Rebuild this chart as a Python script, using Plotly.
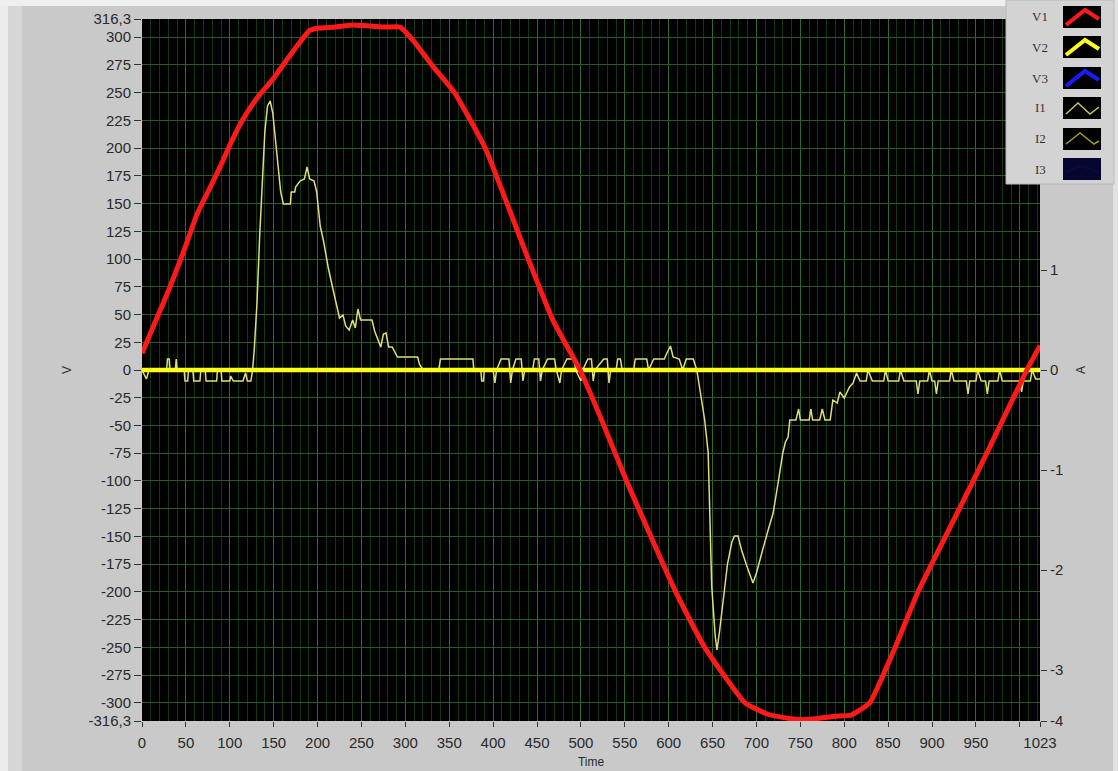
import plotly.graph_objects as go

# ---------------- data ----------------
# V1 voltage (V)
v1_t = [0, 16, 32, 48, 63, 76, 89, 102, 115, 132, 149, 170, 191, 200, 220, 240, 260, 280, 294,
        310, 330, 356, 391, 440, 468, 499, 522, 552, 608, 641, 687, 712, 730, 750, 770, 790, 808,
        829, 858, 884, 947, 966, 1008, 1023]
v1_v = [15, 45, 75, 108, 141, 162, 183, 206, 226, 246, 262, 285, 306, 308, 309, 311, 310, 309, 309,
        296, 275, 250, 200, 100, 45, 0, -42, -100, -200, -250, -300, -310, -313, -315, -314, -312, -311,
        -300, -250, -200, -100, -69, 0, 22]

# V2 / V3 voltages (flat at 0 V)
v2_t = [0, 1023]
v2_v = [0, 0]
v3_t = [0, 1023]
v3_v = [0, 0]

# I1 current (A)
i1_t = [0, 5, 8, 28, 29, 31, 32, 38, 39, 40, 48, 49, 52, 53, 58, 59, 66, 67, 72, 73, 85, 86, 90, 91,
        100, 101, 104, 115, 118, 120, 124, 126,
        128, 131, 134, 137, 140, 143, 146, 149, 152, 155, 158, 161, 169, 170, 174, 175, 180, 185, 188,
        191, 196, 199, 203, 207, 212, 217, 222, 225, 229, 232, 236, 240, 243, 246, 249, 262, 265, 270,
        272, 275, 278, 281, 285, 291, 314, 316, 320,
        338, 340, 377, 378, 386, 387, 389, 390, 400, 402, 404, 409, 418, 420, 422, 426, 432, 434, 436,
        445, 447, 452, 454, 456, 462, 470, 472, 476, 478, 484, 492, 494, 500, 502, 508, 512, 514, 516,
        526, 530, 532, 534, 540, 542, 545, 547, 560, 562, 575, 577, 583, 595, 598, 602, 605, 612, 616,
        620, 628, 632,
        636, 641, 645, 649, 653, 655, 658, 662, 667, 672, 675, 679, 683, 689, 693, 696, 700, 704, 707,
        713, 719, 725, 730, 733, 736, 738, 745, 748, 750, 760, 762, 764, 772, 775, 778, 784, 787, 792,
        795, 800, 806, 810, 814,
        818, 825, 827, 832, 845, 847, 850, 862, 864, 868, 882, 884, 886, 895, 897, 900, 903, 905, 907,
        920, 922, 925, 939, 941, 943, 950, 952, 956, 961, 963, 965, 975, 977, 980, 1000, 1002, 1004,
        1012, 1014, 1018, 1023]
i1_a = [0, -0.09, 0, 0, 0.11, 0.11, 0, 0, 0.11, 0, 0, -0.11, -0.11, 0, 0, -0.11, -0.11, 0, 0, -0.11,
        -0.11, 0, 0, -0.11, -0.11, -0.06, -0.11, -0.11, -0.03, -0.11, -0.11, 0,
        0.22, 0.67, 1.33, 1.89, 2.39, 2.64, 2.69, 2.57, 2.28, 2.00, 1.78, 1.66, 1.66, 1.78, 1.78, 1.83,
        1.89, 1.91, 2.03, 1.91, 1.89, 1.78, 1.44, 1.28, 1.03, 0.83, 0.63, 0.52, 0.55, 0.44, 0.40, 0.50,
        0.42, 0.61, 0.50, 0.50, 0.39, 0.28, 0.23, 0.36, 0.37, 0.23, 0.23, 0.13, 0.13, 0.06, 0,
        0, 0.11, 0.11, 0, 0, -0.11, -0.11, 0, 0, -0.13, 0, 0.11, 0.11, -0.13, 0, 0.11, 0.11, -0.11, 0,
        0, 0.11, 0.11, -0.11, 0, 0.11, 0.11, 0, -0.13, 0, 0.11, 0.11, 0, -0.11, 0, 0.11, 0.11, -0.11, 0,
        0.11, 0.11, -0.13, 0, 0, 0.11, 0.11, 0, 0, 0.11, 0.11, 0, 0.11, 0.11, 0.17, 0.24, 0.13, 0.11, 0,
        0.11, 0.11, 0,
        -0.22, -0.50, -0.83, -2.16, -2.66, -2.80, -2.61, -2.30, -1.94, -1.72, -1.66, -1.66, -1.80, -1.96,
        -2.05, -2.13, -2.03, -1.89, -1.80, -1.61, -1.43, -1.11, -0.83, -0.72, -0.67, -0.50, -0.50, -0.39,
        -0.50, -0.50, -0.39, -0.50, -0.50, -0.39, -0.50, -0.50, -0.30, -0.33, -0.22, -0.28, -0.17, -0.13,
        -0.03,
        -0.11, -0.11, 0, -0.11, -0.11, 0, -0.11, -0.11, 0, -0.11, -0.11, -0.24, -0.11, -0.11, 0, -0.11,
        -0.11, -0.24, -0.11, -0.11, 0, -0.11, -0.11, -0.24, -0.11, -0.11, 0, -0.11, -0.11, -0.24, -0.11,
        -0.11, 0, -0.11, -0.11, -0.22, -0.11, -0.11, 0, -0.09, -0.09]

# I2 / I3 currents (flat at 0 A)
i2_t = [0, 1023]
i2_a = [0, 0]
i3_t = [0, 1023]
i3_a = [0, 0]

# axis ticks
x_ticks = [0, 50, 100, 150, 200, 250, 300, 350, 400, 450, 500, 550, 600, 650, 700, 750, 800, 850,
           900, 950, 1000, 1023]
x_labels = ["0", "50", "100", "150", "200", "250", "300", "350", "400", "450", "500", "550", "600",
            "650", "700", "750", "800", "850", "900", "950", "", "1023"]
v_ticks = [-316.3, -300, -275, -250, -225, -200, -175, -150, -125, -100, -75, -50, -25, 0, 25, 50,
           75, 100, 125, 150, 175, 200, 225, 250, 275, 300, 316.3]
v_labels = ["-316,3", "-300", "-275", "-250", "-225", "-200", "-175", "-150", "-125", "-100", "-75",
            "-50", "-25", "0", "25", "50", "75", "100", "125", "150", "175", "200", "225", "250",
            "275", "300", "316,3"]
a_ticks = [-3.51, -3, -2, -1, 0, 1]
a_labels = ["-4", "-3", "-2", "-1", "0", "1"]

legend_names = ["V1", "V2", "V3", "I1", "I2", "I3"]
legend_colors = ["#ff1a1a", "#ffff1a", "#1a1aff", "#c8c860", "#9a9a3a", "#0c0c55"]

# ---------------- figure ----------------
W, H = 1118, 771
ML, MR, MT, MB = 142, 78, 19, 50
PW, PH = W - ML - MR, H - MT - MB

def px(x):
    return (x - ML) / PW

def py(y):
    return (H - MB - y) / PH

fig = go.Figure()
fig.add_trace(go.Scatter(x=i3_t, y=i3_a, name="I3", mode="lines", yaxis="y",
                         line=dict(color="#0c0c55", width=1)))
fig.add_trace(go.Scatter(x=i2_t, y=i2_a, name="I2", mode="lines", yaxis="y",
                         line=dict(color="#9a9a3a", width=1)))
fig.add_trace(go.Scatter(x=i1_t, y=i1_a, name="I1", mode="lines", yaxis="y",
                         line=dict(color="#dede7a", width=1.5)))
fig.add_trace(go.Scatter(x=v3_t, y=v3_v, name="V3", mode="lines", yaxis="y2",
                         line=dict(color="#1a1aff", width=4)))
fig.add_trace(go.Scatter(x=v2_t, y=v2_v, name="V2", mode="lines", yaxis="y2",
                         line=dict(color="#ffff1a", width=4.5)))
fig.add_trace(go.Scatter(x=v1_t, y=v1_v, name="V1", mode="lines", yaxis="y2",
                         line=dict(color="#ff1a1a", width=5, shape="spline", smoothing=0.4)))

tickfont = dict(family="Liberation Sans, Arial, sans-serif", size=15, color="#2a2a2a")
titlefont = dict(family="Liberation Sans, Arial", size=12, color="#2a2a2a")

fig.update_layout(
    width=W, height=H, autosize=False,
    margin=dict(l=ML, r=MR, t=MT, b=MB, pad=0),
    paper_bgcolor="#c9c9c9",
    plot_bgcolor="#000000",
    showlegend=False,
    xaxis=dict(
        range=[0, 1023], tickmode="array", tickvals=x_ticks, ticktext=x_labels,
        ticks="outside", ticklen=5, tickcolor="#333333", tickfont=tickfont, ticklabelstandoff=3,
        showgrid=True, gridcolor="#2c6a2c", gridwidth=1, zeroline=False, showline=False,
        minor=dict(dtick=10, tick0=0, showgrid=True, gridcolor="#123a12", gridwidth=1, ticks=""),
        title=dict(text="Time", font=titlefont, standoff=7),
        automargin=False,
    ),
    yaxis=dict(
        range=[-3.51, 3.51], side="right", tickmode="array", tickvals=a_ticks, ticktext=a_labels,
        ticks="outside", ticklen=6, tickcolor="#333333", tickfont=tickfont,
        showgrid=False, zeroline=False, showline=False,
        title=dict(text="A", font=titlefont, standoff=14),
        automargin=False,
    ),
    yaxis2=dict(
        range=[-316.3, 316.3], overlaying="y", side="left", tickmode="array",
        tickvals=v_ticks, ticktext=v_labels,
        ticks="outside", ticklen=7, tickcolor="#333333", tickfont=tickfont,
        showgrid=True, gridcolor="#2f5a2f", gridwidth=1, zeroline=False, showline=False,
        title=dict(text="V", font=titlefont, standoff=14),
        automargin=False,
    ),
)

shapes = []
# panel light borders
shapes.append(dict(type="rect", xref="paper", yref="paper", x0=px(0), x1=px(8), y0=py(771), y1=py(0),
                   fillcolor="#ececec", line=dict(width=0), layer="below"))
shapes.append(dict(type="rect", xref="paper", yref="paper", x0=px(8), x1=px(22), y0=py(771), y1=py(6),
                   fillcolor="#d6d6d6", line=dict(width=0), layer="below"))
shapes.append(dict(type="rect", xref="paper", yref="paper", x0=px(0), x1=px(1118), y0=py(6), y1=py(0),
                   fillcolor="#efefef", line=dict(width=0), layer="below"))
shapes.append(dict(type="rect", xref="paper", yref="paper", x0=px(1113), x1=px(1118), y0=py(771), y1=py(0),
                   fillcolor="#e2e2e2", line=dict(width=0), layer="below"))
# legend box
shapes.append(dict(type="rect", xref="paper", yref="paper", x0=px(1006), x1=px(1114), y0=py(184), y1=py(0),
                   fillcolor="#d3d3d3", line=dict(color="#b8b8b8", width=1), layer="above"))
centers = [17, 47, 78, 108, 139, 169]
annotations = []
for k, (nm, col, c) in enumerate(zip(legend_names, legend_colors, centers)):
    annotations.append(dict(text=nm, xref="paper", yref="paper", x=px(1040), y=py(c),
                            showarrow=False, xanchor="center", yanchor="middle",
                            font=dict(family="Liberation Serif, serif", size=13, color="#333333")))
    shapes.append(dict(type="rect", xref="paper", yref="paper", x0=px(1063), x1=px(1101),
                       y0=py(c + 11), y1=py(c - 11),
                       fillcolor="#000000" if nm != "I3" else "#06062e", line=dict(width=0),
                       layer="above"))
    if nm in ("V1", "V2", "V3"):
        pts = [(1066, c + 8), (1085, c - 7), (1099, c + 2)]
        wdt = 4
    elif nm == "I1":
        pts = [(1066, c + 6), (1078, c - 5), (1090, c + 6), (1099, c - 1)]
        wdt = 1.5
    elif nm == "I2":
        pts = [(1066, c + 5), (1080, c - 6), (1094, c + 5), (1099, c + 2)]
        wdt = 1.5
    else:
        pts = [(1066, c + 3), (1080, c - 3), (1099, c + 3)]
        wdt = 1
    path = "M " + " L ".join(f"{px(a):.5f},{py(b):.5f}" for a, b in pts)
    shapes.append(dict(type="path", xref="paper", yref="paper", path=path,
                       line=dict(color=col, width=wdt), layer="above"))

fig.update_layout(shapes=shapes, annotations=annotations)
fig.write_html("out.html", config={"displayModeBar": False},
               post_script="document.body.style.margin='0';document.body.style.overflow='hidden';")
